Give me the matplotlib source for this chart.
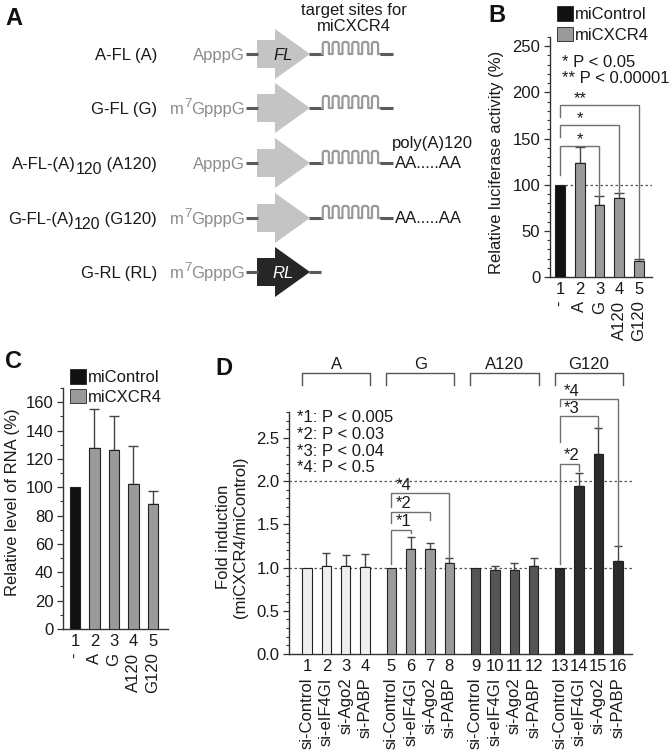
import matplotlib
matplotlib.use('Agg')
import matplotlib.pyplot as plt
from matplotlib.patches import Polygon, Rectangle
from matplotlib.ticker import MultipleLocator, FormatStrFormatter

plt.rcParams['font.family'] = ['Liberation Sans', 'DejaVu Sans']
plt.rcParams['axes.unicode_minus'] = False

W, H, DPI = 672, 753, 100
FS = 12
TXT = '#1a1a1a'
CAPC = '#8c8c8c'

# ---------------- data ----------------
# each label is a list of (text, vertical shift: 0 normal, 1 superscript, -1 subscript)
construct_names = [[('A-FL (A)', 0)],
                   [('G-FL (G)', 0)],
                   [('A-FL-(A)', 0), ('120', -1), (' (A120)', 0)],
                   [('G-FL-(A)', 0), ('120', -1), (' (G120)', 0)],
                   [('G-RL (RL)', 0)]]
construct_caps = [[('ApppG', 0)],
                  [('m', 0), ('7', 1), ('GpppG', 0)],
                  [('ApppG', 0)],
                  [('m', 0), ('7', 1), ('GpppG', 0)],
                  [('m', 0), ('7', 1), ('GpppG', 0)]]
construct_orf = ['FL', '', '', '', 'RL']
construct_sites = [True, True, True, True, False]
construct_polyA = [False, False, True, True, False]

bc_numbers = ['1', '2', '3', '4', '5']
bc_labels = ['-', 'A', 'G', 'A120', 'G120']
bc_series = ['miControl', 'miCXCR4', 'miCXCR4', 'miCXCR4', 'miCXCR4']
series_colors = {'miControl': '#111111', 'miCXCR4': '#9a9a9a'}

b_values = [100, 124, 78, 86, 17]
b_err = [0, 17, 10, 5, 2]
b_sig = [(0, 2, '*'), (0, 3, '*'), (0, 4, '**')]

c_values = [100, 128, 126, 102, 88]
c_err = [0, 27, 24, 27, 9]

d_groups = ['A', 'G', 'A120', 'G120']
d_group_colors = ['#efefef', '#9a9a9a', '#555555', '#2b2b2b']
d_sirna = ['si-Control', 'si-eIF4GI', 'si-Ago2', 'si-PABP']
d_values = [1.00, 1.02, 1.02, 1.01, 1.00, 1.21, 1.22, 1.05,
            1.00, 0.97, 0.97, 1.02, 1.00, 1.94, 2.31, 1.08]
d_err = [0, .15, .13, .15, 0, .14, .07, .06, 0, .05, .08, .09, 0, .16, .31, .17]
d_sig = [(4, 7, '*4'), (4, 6, '*2'), (4, 5, '*1'),
         (12, 15, '*4'), (12, 14, '*3'), (12, 13, '*2')]
d_pvals = ['*1: P < 0.005', '*2: P < 0.03', '*3: P < 0.04', '*4: P < 0.5']

# ---------------- figure ----------------
fig = plt.figure(figsize=(W / DPI, H / DPI), dpi=DPI)
renderer = fig.canvas.get_renderer()


def add_ax(l, t, r, b):
    return fig.add_axes([l / W, 1 - b / H, (r - l) / W, (b - t) / H])


ov = fig.add_axes([0, 0, 1, 1])
ov.set_xlim(0, W)
ov.set_ylim(H, 0)
ov.axis('off')
ov.set_zorder(10)


def seq_text(x_right, y_base, parts, color):
    """Right-aligned run of text pieces; shifted pieces are drawn as real text."""
    x = x_right
    for s, shift in reversed(parts):
        if shift == 1:
            dy, size = -7, FS * 0.8
        elif shift == -1:
            dy, size = 5, FS * 0.95
        else:
            dy, size = 0, FS
        t = ov.text(x, y_base + dy, s, ha='right', va='baseline', fontsize=size,
                    color=color)
        bb = t.get_window_extent(renderer)
        x -= bb.width * W / fig.bbox.width


def style(ax, major, minor):
    for s in ['top', 'right']:
        ax.spines[s].set_visible(False)
    for s in ['left', 'bottom']:
        ax.spines[s].set_linewidth(1.0)
        ax.spines[s].set_color('#333333')
    ax.yaxis.set_major_locator(MultipleLocator(major))
    ax.yaxis.set_minor_locator(MultipleLocator(minor))
    ax.tick_params(axis='y', which='major', direction='out', length=4.5, width=0.9,
                   color='#333333', labelsize=FS, pad=2.5, labelcolor=TXT)
    ax.tick_params(axis='y', which='minor', direction='out', length=2.5, width=0.8,
                   color='#333333')
    ax.tick_params(axis='x', length=0, labelsize=FS, pad=3.5, labelcolor=TXT)
    ax.patch.set_alpha(0)


def rot_labels(ax, xs, labels):
    for x, lab in zip(xs, labels):
        ax.annotate(lab, xy=(x, 0), xycoords=('data', 'axes fraction'),
                    xytext=(0, -17), textcoords='offset points', rotation=90,
                    ha='center', va='top', fontsize=FS, color=TXT,
                    annotation_clip=False)


def bracket(ax, x1, x2, h, lend, rend, color='#707070'):
    ax.plot([x1, x1, x2, x2], [lend, h, h, rend], color=color, lw=1.0,
            clip_on=False, solid_joinstyle='miter', zorder=5)


def bars(ax, xs, vals, errs, colors, width, capsize):
    ax.bar(xs, vals, width=width, color=colors, edgecolor='#222222',
           linewidth=0.8, zorder=3)
    ex = [x for x, e in zip(xs, errs) if e > 0]
    ev = [v for v, e in zip(vals, errs) if e > 0]
    ee = [e for e in errs if e > 0]
    ax.errorbar(ex, ev, yerr=[[0] * len(ee), ee], fmt='none', ecolor='#444444',
                elinewidth=1.0, capsize=capsize, capthick=1.0, zorder=2)


# ---------------- panel A ----------------
rows = [54, 108, 163, 218, 272]
for i, y in enumerate(rows):
    seq_text(157, y + 6, construct_names[i], TXT)
    seq_text(245, y + 6, construct_caps[i], CAPC)
    ov.plot([246, 258], [y, y], color='#5a5a5a', lw=2.2, solid_capstyle='butt')
    fc = '#262626' if construct_orf[i] == 'RL' else '#c4c4c4'
    ov.add_patch(Polygon([(257, y - 14), (275, y - 14), (275, y - 25), (310, y),
                          (275, y + 25), (275, y + 14), (257, y + 14)],
                         closed=True, facecolor=fc, edgecolor='none'))
    if construct_orf[i]:
        ov.text(283, y + 1, construct_orf[i], ha='center', va='center', fontsize=FS,
                style='italic', color='white' if construct_orf[i] == 'RL' else TXT)
    if construct_sites[i]:
        ov.plot([309, 323], [y, y], color='#5a5a5a', lw=2.2, solid_capstyle='butt')
        x0, x1, n, hh = 322, 381, 6, 12
        step = (x1 - x0) / n
        xs, ys = [x0], [y]
        for k in range(n):
            a = x0 + k * step + 0.8
            b = a + step * 0.62
            xs += [a, a, a + 1.3, b - 1.3, b, b, x0 + (k + 1) * step]
            ys += [y, y - hh + 1.5, y - hh, y - hh, y - hh + 1.5, y, y]
        ov.plot(xs, ys, color='#9a9a9a', lw=1.6, solid_joinstyle='round')
        ov.plot([380, 393], [y, y], color='#5a5a5a', lw=2.2, solid_capstyle='butt')
    else:
        ov.plot([309, 321], [y, y], color='#5a5a5a', lw=2.2, solid_capstyle='butt')
    if construct_polyA[i]:
        ov.text(395, y, 'AA.....AA', ha='left', va='center', fontsize=FS, color=TXT)

ov.text(392, 143, 'poly(A)120', ha='left', va='center', fontsize=FS, color=TXT)
ov.text(354, 10, 'target sites for', ha='center', va='center', fontsize=FS, color=TXT)
ov.text(354, 26, 'miCXCR4', ha='center', va='center', fontsize=FS, color=TXT)

# panel letters
for lab, x, y in [('A', 5, 25), ('B', 488, 22), ('C', 5, 368), ('D', 215, 375)]:
    ov.text(x, y, lab, ha='left', va='baseline', fontsize=17, fontweight='bold',
            color='#111111')

# legends (B and C)
for (lx, ty, by) in [(557, 6, 27), (70, 369, 389)]:
    ov.add_patch(Rectangle((lx, ty), 16, 15, facecolor=series_colors['miControl'],
                           edgecolor='#222222', lw=0.6))
    ov.add_patch(Rectangle((lx, by), 16, 14, facecolor=series_colors['miCXCR4'],
                           edgecolor='#222222', lw=0.6))
    ov.text(lx + 18, ty + 12.5, 'miControl', ha='left', va='baseline', fontsize=FS, color=TXT)
    ov.text(lx + 18, by + 12.5, 'miCXCR4', ha='left', va='baseline', fontsize=FS, color=TXT)

# ---------------- panel B ----------------
axB = add_ax(550, 37, 652, 277)
style(axB, 50, 10)
xb = list(range(1, len(b_values) + 1))
axB.set_xlim(0.494, 5.66)
axB.set_ylim(0, 260)
axB.plot([1, 5.66], [100, 100], ls=(0, (2, 2)), color='#555555', lw=0.9, zorder=1)
bars(axB, xb, b_values, b_err, [series_colors[s] for s in bc_series], 0.5, 3.5)
axB.set_xticks(xb, bc_numbers)
rot_labels(axB, xb, bc_labels)
b_heights = [(142, 110), (165, 152), (186, 173)]
for (i, j, lab), (h, lend) in zip(b_sig, b_heights):
    bracket(axB, xb[i], xb[j], h, lend, b_values[j] + b_err[j])
    axB.text(xb[1], h + 2, lab, ha='center', va='baseline', fontsize=FS, color=TXT)
ov.text(562, 67, '* P < 0.05', ha='left', va='baseline', fontsize=FS, color=TXT)
ov.text(562, 83, '** P < 0.00001', ha='left', va='baseline', fontsize=FS, color=TXT)
ov.text(497, 162, 'Relative luciferase activity (%)', rotation=90, ha='center',
        va='center', fontsize=FS, color=TXT)

# ---------------- panel C ----------------
axC = add_ax(63, 388, 168, 629)
style(axC, 20, 10)
xc = list(range(1, len(c_values) + 1))
axC.set_xlim(0.385, 5.77)
axC.set_ylim(0, 170)
bars(axC, xc, c_values, c_err, [series_colors[s] for s in bc_series], 0.55, 3.5)
axC.set_xticks(xc, bc_numbers)
rot_labels(axC, xc, bc_labels)
ov.text(13, 502, 'Relative level of RNA (%)', rotation=90, ha='center',
        va='center', fontsize=FS, color=TXT)

# ---------------- panel D ----------------
axD = add_ax(289, 412, 632, 654)
style(axD, 0.5, 0.1)
axD.yaxis.set_major_formatter(FormatStrFormatter('%.1f'))
xd = [g * 4.35 + k for g in range(len(d_groups)) for k in range(len(d_sirna))]
axD.set_xlim(-0.93, 16.78)
axD.set_ylim(0, 2.8)
for yl in (1.0, 2.0):
    axD.axhline(yl, ls=(0, (2, 2)), color='#555555', lw=0.9, zorder=1)
dcols = [d_group_colors[g] for g in range(len(d_groups)) for _ in d_sirna]
bars(axD, xd, d_values, d_err, dcols, 0.48, 3.0)
axD.set_xticks(xd, [str(k + 1) for k in range(len(xd))])
rot_labels(axD, xd, d_sirna * len(d_groups))

for g, name in enumerate(d_groups):
    xa, xb2 = xd[g * 4] - 0.26, xd[g * 4 + 3] + 0.26
    axD.plot([xa, xa, xb2, xb2], [3.11, 3.249, 3.249, 3.11], color='#555555',
             lw=1.0, clip_on=False)
    axD.text((xa + xb2) / 2, 3.295, name, ha='center', va='baseline',
             fontsize=FS, color=TXT, clip_on=False)

d_heights = [(1.86, 1.70, 1.11), (1.645, 1.51, 1.55), (1.44, 1.04, 1.40),
             (2.945, 2.87, 1.25), (2.75, 2.45, 2.63), (2.20, 1.04, 2.12)]
for (i, j, lab), (h, lend, rend) in zip(d_sig, d_heights):
    bracket(axD, xd[i], xd[j], h, lend, rend)
    axD.text(xd[i] + 0.22, h + 0.04, lab, ha='left', va='baseline', fontsize=FS,
             color=TXT, clip_on=False)

for k, t in enumerate(d_pvals):
    ov.text(297, 422 + k * 16.8, t, ha='left', va='baseline', fontsize=FS, color=TXT)
ov.text(232, 537, 'Fold induction\n(miCXCR4/miControl)', rotation=90, ha='center',
        va='center', fontsize=FS, color=TXT, multialignment='center')

fig.savefig('out.png', dpi=DPI)
